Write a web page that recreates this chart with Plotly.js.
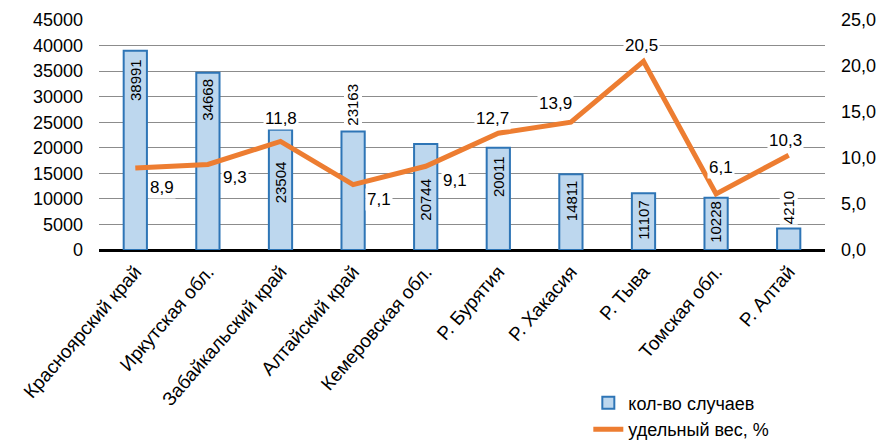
<!DOCTYPE html>
<html>
<head>
<meta charset="utf-8">
<script src="https://cdn.plot.ly/plotly-3.0.1.min.js"></script>
<style>html,body{margin:0;padding:0;background:#fff;}#chart{width:882px;height:442px;}</style>
</head>
<body>
<div id="chart"></div>
<script>
const categories = ["Красноярский край","Иркутская обл.","Забайкальский край","Алтайский край","Кемеровская обл.","Р. Бурятия","Р. Хакасия","Р. Тыва","Томская обл.","Р. Алтай"];
const cases = [38991, 34668, 23504, 23163, 20744, 20011, 14811, 11107, 10228, 4210];
const share = [8.9, 9.3, 11.8, 7.1, 9.1, 12.7, 13.9, 20.5, 6.1, 10.3];
const seriesNames = ["кол-во случаев", "удельный вес, %"];

// label placement styles (pixel offsets from the mark)
const barLabelShift = [-29, -27, -53, 27, -56, -29, -26, -27, -24, 21];
const lineLabelShift = [[27,-19],[27,-13],[0,23],[26,-15],[29,-14],[-6,15],[-15,19],[-2,16],[5,26],[-3,15]];

const FONT = "Liberation Sans, Arial, sans-serif";

const traces = [
  {
    type: "bar", x: categories, y: cases, name: seriesNames[0],
    marker: {color: "#BDD7EE", line: {color: "#2E75B6", width: 2}},
    width: 0.32, hoverinfo: "skip"
  },
  {
    type: "scatter", mode: "lines", x: categories, y: share, yaxis: "y2", name: seriesNames[1],
    line: {color: "#ED7D31", width: 5}, hoverinfo: "skip"
  }
];

const annotations = [];
cases.forEach((v, i) => {
  const outside = barLabelShift[i] > 0;
  annotations.push({
    x: categories[i], y: v, xref: "x", yref: "y", text: String(v),
    showarrow: false, textangle: -90, yanchor: "middle", xanchor: "center",
    yshift: barLabelShift[i], font: {family: FONT, size: 15, color: "#000"},
    bgcolor: outside ? "#fff" : "rgba(0,0,0,0)", borderpad: 0
  });
});
share.forEach((v, i) => {
  annotations.push({
    x: categories[i], y: v, xref: "x", yref: "y2", text: v.toFixed(1).replace(".", ","),
    showarrow: false, xanchor: "center", yanchor: "middle",
    xshift: lineLabelShift[i][0], yshift: lineLabelShift[i][1],
    font: {family: FONT, size: 17, color: "#000"}, bgcolor: "#fff", borderpad: 1
  });
});

const layout = {
  width: 882, height: 442,
  margin: {l: 99, r: 57, t: 20, b: 192, autoexpand: false},
  paper_bgcolor: "#fff", plot_bgcolor: "#fff",
  separators: ", ",
  font: {family: FONT, size: 18, color: "#000"},
  showlegend: true,
  legend: {
    x: 0.674, y: -0.585, xanchor: "left", yanchor: "top",
    font: {family: FONT, size: 18, color: "#000"},
    bgcolor: "rgba(0,0,0,0)", tracegroupgap: 0, itemwidth: 30
  },
  xaxis: {
    type: "category", tickangle: -49, showgrid: false, zeroline: false,
    showline: false, ticks: "", ticklabelstandoff: 6,
    tickfont: {family: FONT, size: 19, color: "#000"},
    automargin: false, fixedrange: true
  },
  yaxis: {
    range: [0, 45000], dtick: 5000, tick0: 0, tickformat: "d",
    showgrid: true, gridcolor: "#8c8c8c", gridwidth: 1,
    zeroline: true, zerolinecolor: "#000", zerolinewidth: 3,
    showline: false, ticks: "", ticklabelstandoff: 15, automargin: false,
    tickfont: {family: FONT, size: 18, color: "#000"}, fixedrange: true
  },
  yaxis2: {
    range: [0, 25], dtick: 5, tick0: 0, tickformat: ".1f",
    overlaying: "y", side: "right", showgrid: false, zeroline: false,
    showline: false, ticks: "", ticklabelstandoff: 15, automargin: false,
    tickfont: {family: FONT, size: 18, color: "#000"}, fixedrange: true
  },
  annotations: annotations
};

Plotly.newPlot("chart", traces, layout, {displayModeBar: false, staticPlot: true});
</script>
</body>
</html>
